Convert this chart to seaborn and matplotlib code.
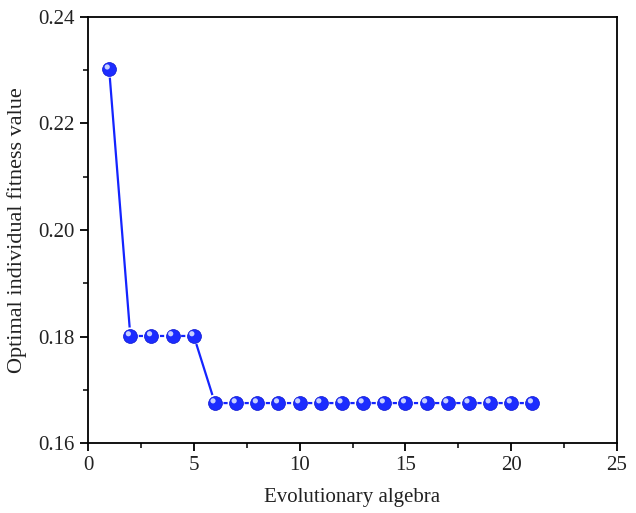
import matplotlib
matplotlib.use("Agg")
import matplotlib.pyplot as plt
import matplotlib.transforms as mtransforms
from matplotlib.ticker import MultipleLocator, FormatStrFormatter
import seaborn as sns
import pandas as pd

# Best fitness per generation
generations = [1, 2, 3, 4, 5, 6, 7, 8, 9, 10, 11, 12, 13, 14, 15, 16, 17, 18, 19, 20, 21]
fitness = [0.2302, 0.1801, 0.1801, 0.1801, 0.1801,
           0.1675, 0.1675, 0.1675, 0.1675, 0.1675, 0.1675, 0.1675, 0.1675,
           0.1675, 0.1675, 0.1675, 0.1675, 0.1675, 0.1675, 0.1675, 0.1675]
x_label = "Evolutionary algebra"
y_label = "Optimal individual fitness value"

df = pd.DataFrame({"gen": generations, "fit": fitness})

sns.set_theme(style="ticks")
plt.rcParams["font.family"] = ["Liberation Serif", "DejaVu Serif"]

fig = plt.figure(figsize=(6.36, 5.13), dpi=100)
ax = fig.add_axes([88 / 636, 1 - 443 / 513, (617 - 88) / 636, (443 - 17) / 513])

blue = "#1424ff"
sns.lineplot(data=df, x="gen", y="fit", ax=ax, color=blue, linewidth=1.6, zorder=2)
# white halo so the connecting line stops short of each sphere
sns.scatterplot(data=df, x="gen", y="fit", ax=ax, s=150, color="white",
                edgecolor="none", zorder=3)
sns.scatterplot(data=df, x="gen", y="fit", ax=ax, s=100, color="#1c2cff",
                edgecolor="#0a14d0", linewidth=0.5, zorder=4)
# specular highlight for a glossy sphere look
shift = mtransforms.ScaledTranslation(-1.4 / 72, 1.6 / 72, fig.dpi_scale_trans)
ax.scatter(df["gen"], df["fit"], s=14, color="#c8d0ff", edgecolor="none",
           zorder=5, transform=ax.transData + shift)

ax.set_xlim(0, 25)
ax.set_ylim(0.16, 0.24)
ax.xaxis.set_major_locator(MultipleLocator(5))
ax.xaxis.set_minor_locator(MultipleLocator(2.5))
ax.yaxis.set_major_locator(MultipleLocator(0.02))
ax.yaxis.set_minor_locator(MultipleLocator(0.01))
ax.yaxis.set_major_formatter(FormatStrFormatter("%.2f"))

ax.tick_params(which="major", direction="out", length=6, width=1.3,
               labelsize=15, color="black", labelcolor="#222222",
               top=False, right=False)
ax.tick_params(which="minor", direction="out", length=3.5, width=1.1,
               color="black", top=False, right=False)
for sp in ax.spines.values():
    sp.set_linewidth(1.3)
    sp.set_color("black")

ax.set_xlabel(x_label, fontsize=15, color="#222222", labelpad=9)
ax.set_ylabel(y_label, fontsize=16, color="#222222", labelpad=8)

fig.savefig("out.png", dpi=100, facecolor="white")
